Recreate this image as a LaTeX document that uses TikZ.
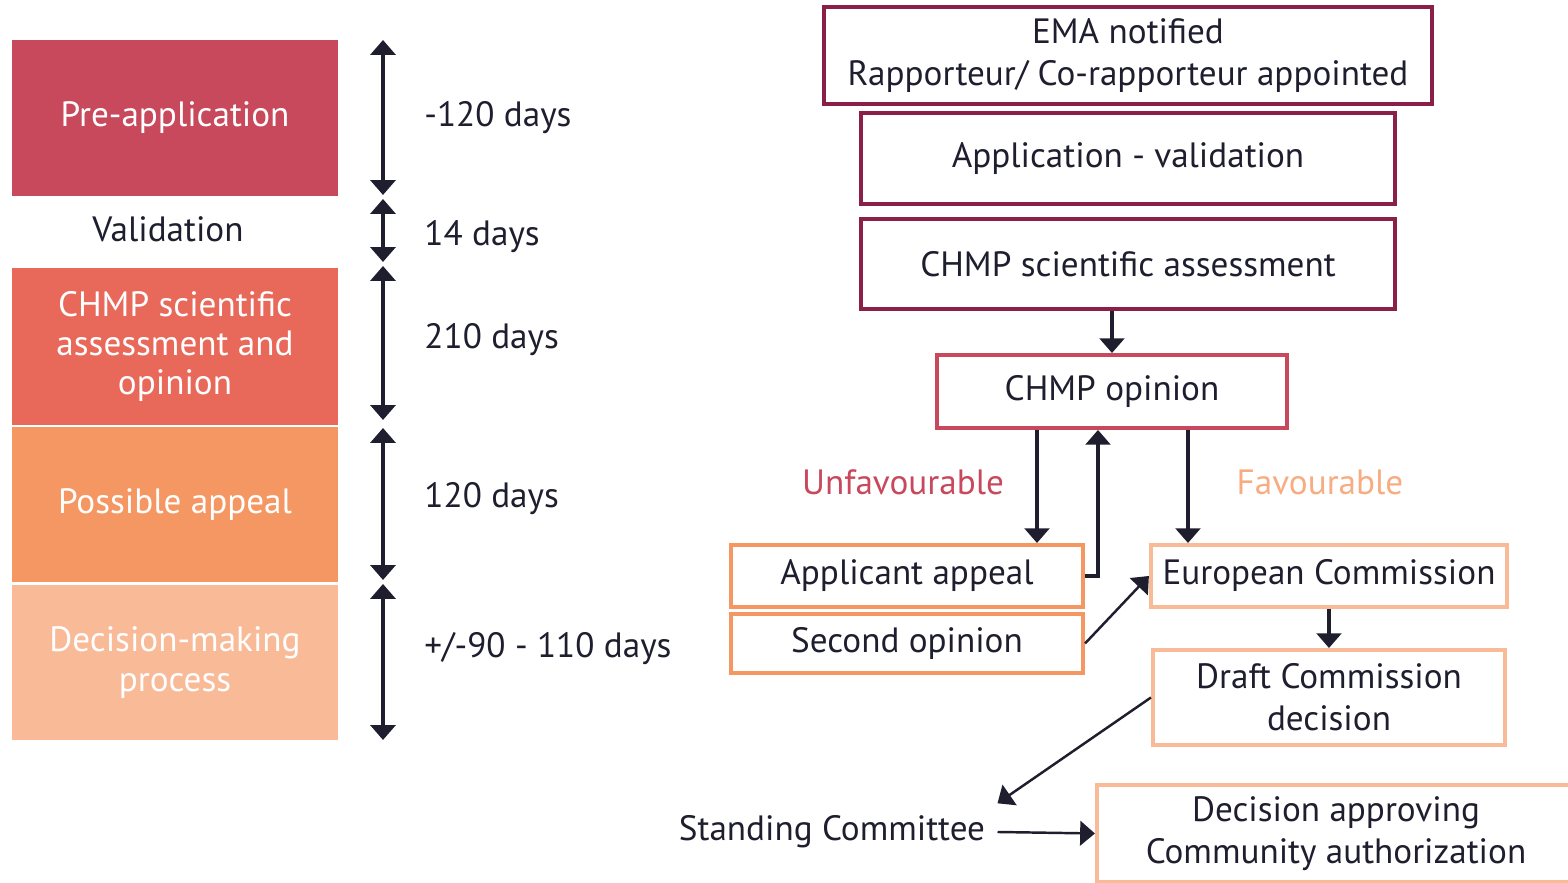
\documentclass[tikz,border=0pt]{standalone}
\usepackage{fontspec}
\setmainfont{PT Sans}
\usepackage{xcolor}
\usepackage{tikz}
\usetikzlibrary{positioning,arrows.meta,calc}
\definecolor{maroon}{RGB}{138,31,71}
\definecolor{crimson}{RGB}{200,72,92}
\definecolor{coral}{RGB}{232,104,90}
\definecolor{apricot}{RGB}{245,151,98}
\definecolor{peach}{RGB}{249,186,152}
\definecolor{inkblue}{RGB}{30,30,46}
\tikzset{
  phase box/.style={
    rectangle,
    draw=none,
    minimum width=3.26cm,
    minimum height=1.56cm,
    align=center,
    text=white,
    font=\fontsize{10}{11.2}\selectfont
  },
  step box/.style={
    rectangle,
    draw=#1,
    fill=white,
    line width=1.1pt,
    minimum width=3.52cm,
    align=center,
    text=inkblue,
    font=\fontsize{10}{12}\selectfont
  },
  plain text/.style={
    text=inkblue,
    font=\fontsize{10}{12}\selectfont
  },
  arrow/.style={
    -{Triangle[length=4.2pt,width=7pt]},
    line width=1.05pt,
    draw=inkblue
  },
  span/.style={
    {Triangle[length=4.2pt,width=7pt]}-{Triangle[length=4.2pt,width=7pt]},
    line width=1.05pt,
    draw=inkblue
  }
}
\begin{document}
\begin{tikzpicture}[x=0.01cm,y=-0.01cm]
  \useasboundingbox (0,0) rectangle (1568,883);
  % Timeline of phases
  \node[phase box, fill=crimson] (pre) at (175,118) {Pre-application};
  \node[plain text] (valid) at (168,229) {Validation};
  \node[phase box, fill=coral, minimum height=1.57cm] (chmpa) at (175,346.5) {CHMP scientific\\assessment and\\opinion};
  \node[phase box, fill=apricot, minimum height=1.55cm] (appeal) at (175,504.5) {Possible appeal};
  \node[phase box, fill=peach, minimum height=1.55cm] (dmp) at (175,662.5) {Decision-making\\process};

  \coordinate (t0) at (383,40);
  \coordinate (t1) at (383,195);
  \coordinate (t2) at (383,199);
  \coordinate (t3) at (383,262);
  \coordinate (t4) at (383,266);
  \coordinate (t5) at (383,420);
  \coordinate (t6) at (383,428);
  \coordinate (t7) at (383,580);
  \coordinate (t8) at (383,584);
  \coordinate (t9) at (383,740);
  \draw[span] (t0) -- (t1);
  \draw[span] (t2) -- (t3);
  \draw[span] (t4) -- (t5);
  \draw[span] (t6) -- (t7);
  \draw[span] (t8) -- (t9);

  \node[plain text, anchor=west] (d1) at (412,118) {-120 days};
  \node[plain text, anchor=west] (d2) at (412,237) {14 days};
  \node[plain text, anchor=west] (d3) at (412,340) {210 days};
  \node[plain text, anchor=west] (d4) at (412,499) {120 days};
  \node[plain text, anchor=west] (d5) at (412,649) {+/-90 - 110 days};

  % Procedure
  \node[step box=maroon, minimum width=6.08cm, minimum height=0.91cm] (ema) at (1128,55.5) {EMA notified\\Rapporteur/ Co-rapporteur appointed};
  \node[step box=maroon, minimum width=5.34cm, minimum height=0.91cm] (appval) at (1128,158.5) {Application - validation};
  \node[step box=maroon, minimum width=5.34cm, minimum height=0.90cm] (chmps) at (1128,264) {CHMP scientific assessment};
  \node[step box=crimson, minimum width=3.50cm, minimum height=0.73cm] (chmpo) at (1112,391.5) {CHMP opinion};
  \node[step box=apricot, minimum height=0.62cm] (appl) at (907,576) {Applicant appeal};
  \node[step box=apricot, minimum height=0.59cm] (second) at (907,643.5) {Second opinion};
  \node[step box=peach, minimum height=0.62cm] (ec) at (1329,576) {European Commission};
  \node[step box=peach, minimum height=0.95cm] (draft) at (1329,697.5) {Draft Commission\\decision};
  \node[plain text] (sc) at (832,832) {Standing Committee};
  \node[step box=peach, minimum width=4.78cm, minimum height=0.95cm] (dec) at (1336,833.5) {Decision approving\\Community authorization};

  \node[text=crimson, font=\fontsize{10}{12}\selectfont] (unfav) at (903,482) {Unfavourable};
  \node[text=apricot!80!white, font=\fontsize{10}{12}\selectfont] (fav) at (1320,482) {Favourable};

  \coordinate (down1) at ($(chmpo.south)+(-75,0)$);
  \coordinate (back1) at ($(chmpo.south)+(-14,0)$);
  \coordinate (down2) at ($(chmpo.south)+(76,0)$);
  \draw[arrow] (chmpo.north |- chmps.south) -- (chmpo.north);
  \draw[arrow] (down1) -- (down1 |- appl.north);
  \draw[arrow] (appl.east) -| (back1);
  \draw[arrow] (down2) -- (down2 |- ec.north);
  \draw[arrow, line width=0.7pt] (second.east) -- (ec.west);
  \draw[arrow] (ec.south) -- (draft.north);
  \draw[arrow, line width=0.7pt] (draft.west) -- (sc.north east);
  \draw[arrow, line width=0.7pt] (sc.east) -- (dec.west);
\end{tikzpicture}
\end{document}
